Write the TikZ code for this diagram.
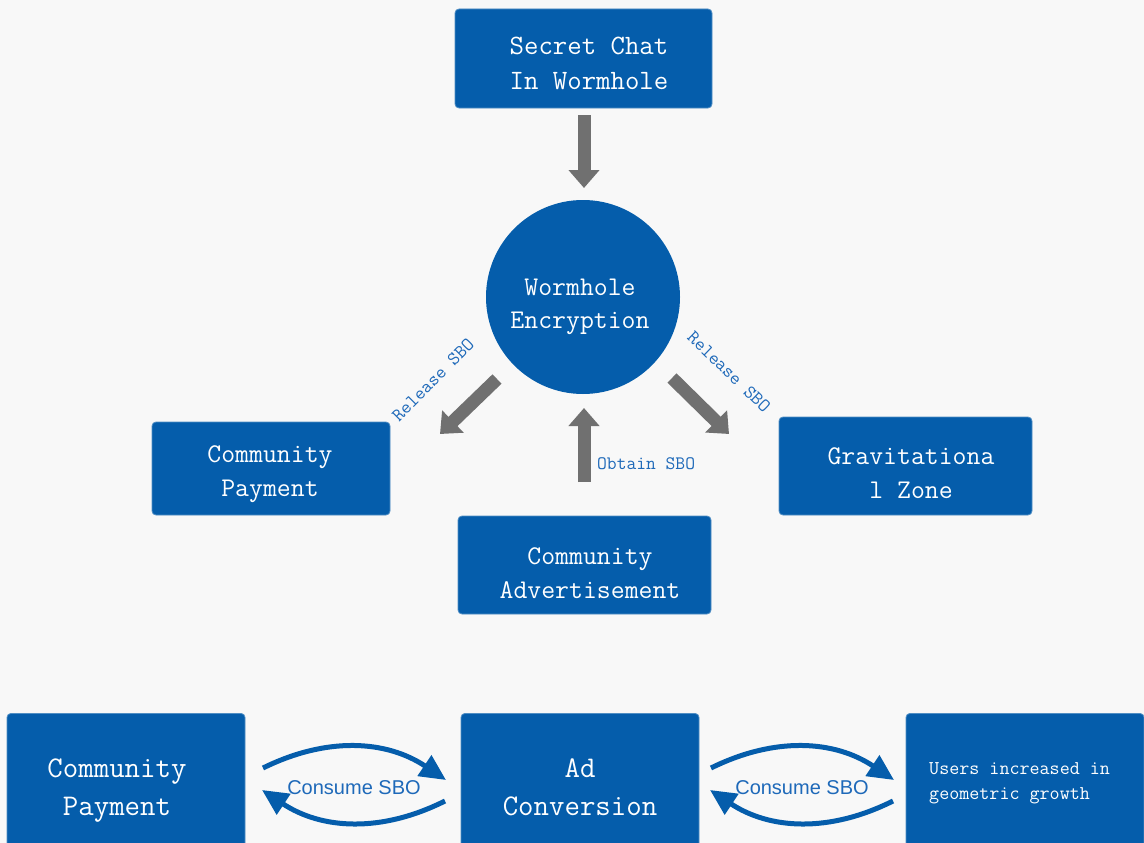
\documentclass[tikz,border=0pt]{standalone}
\usepackage{fontspec}
\newfontfamily\sansf{Liberation Sans}
\usetikzlibrary{arrows.meta}
\definecolor{boxblue}{RGB}{5,93,171}
\definecolor{lblblue}{RGB}{30,105,185}
\definecolor{arrgray}{RGB}{112,112,112}
\definecolor{bg}{RGB}{248,248,248}
\tikzset{
  box/.style={fill=boxblue, draw=boxblue!70!white, line width=0.8pt, rounded corners=4pt, inner sep=0pt, text=white, font=\ttfamily},
  btext/.style={align=center, text=white, inner sep=0pt},
  garrow/.style={draw=arrgray, line width=13pt, -{Triangle[width=30pt,length=18pt]}},
  barrow/.style={draw=boxblue, line width=5pt, -{Triangle[width=24pt,length=26pt]}},
  lbl/.style={text=lblblue, font=\ttfamily\fontsize{19}{19}\selectfont, inner sep=0pt},
}
\begin{document}
\begin{tikzpicture}[x=1pt,y=-1pt]
\useasboundingbox (0,0) rectangle (1144,843);
\fill[bg] (0,0) rectangle (1144,843);
\clip (0,0) rectangle (1144,843);

% top box
\node[box, minimum width=257pt, minimum height=99pt] (chat) at (583.5,58.5) {};
\node[btext, font=\ttfamily\fontsize{28}{35}\selectfont] (chatt) at (589,63) {Secret Chat\\In Wormhole};

% circle
\node[circle, fill=boxblue, minimum size=194pt, inner sep=0pt] (worm) at (583,297) {};
\node[btext, font=\ttfamily\fontsize{27}{33}\selectfont] (wormt) at (580,307) {Wormhole\\Encryption};

% middle boxes
\node[box, minimum width=238pt, minimum height=93pt] (pay1) at (271,468.5) {};
\node[btext, font=\ttfamily\fontsize{27}{34}\selectfont] (pay1t) at (270,474) {Community\\Payment};
\node[box, minimum width=253pt, minimum height=98pt] (grav) at (905.5,466) {};
\node[btext, font=\ttfamily\fontsize{27}{34}\selectfont] (gravt) at (911,473) {Gravitationa\\l Zone};
\node[box, minimum width=253pt, minimum height=98pt] (adv) at (584.5,565) {};
\node[btext, font=\ttfamily\fontsize{27}{34}\selectfont] (advt) at (590,573) {Community\\Advertisement};

% bottom boxes
\node[box, minimum width=238pt, minimum height=160pt, anchor=north] (pay2) at (126,713) {};
\node[btext, font=\ttfamily\fontsize{30}{38}\selectfont] (pay2t) at (117,791) {Community\\Payment};
\node[box, minimum width=238pt, minimum height=160pt, anchor=north] (conv) at (580,713) {};
\node[btext, font=\ttfamily\fontsize{30}{38}\selectfont] (convt) at (580,787) {Ad\\Conversion};
\node[box, minimum width=238pt, minimum height=160pt, anchor=north] (users) at (1025,713) {};
\node[align=left, text=white, font=\ttfamily\fontsize{19.5}{25}\selectfont, inner sep=0pt, anchor=west] (userst) at (929,783) {Users increased in\\geometric growth};

% gray arrows
\coordinate (c1) at (584,115);
\coordinate (c2) at (584,188);
\draw[garrow] (c1) -- (c2);
\coordinate (l1) at (497,379);
\coordinate (l2) at (440,434);
\draw[garrow] (l1) -- (l2);
\coordinate (r1) at (672,378);
\coordinate (r2) at (729,434);
\draw[garrow] (r1) -- (r2);
\coordinate (u1) at (584,482);
\coordinate (u2) at (584,408);
\draw[garrow] (u1) -- (u2);

% labels
\node[lbl, rotate=45] (rl) at (433,380) {Release SBO};
\node[lbl, rotate=-44] (rr) at (729,372) {Release SBO};
\node[lbl, anchor=west] (ob) at (597,464) {Obtain SBO};

% curved blue arrows
\coordinate (a1) at (263,768);
\coordinate (a2) at (446,780);
\coordinate (a3) at (445,801);
\coordinate (a4) at (262,790);
\draw[barrow] (a1) to[bend left=30] (a2);
\draw[barrow] (a3) to[bend left=30] (a4);
\node[text=lblblue, font=\sansf\fontsize{20}{20}\selectfont, inner sep=0pt] (cs1) at (354,788) {Consume SBO};

\coordinate (b1) at (711,768);
\coordinate (b2) at (894,780);
\coordinate (b3) at (893,801);
\coordinate (b4) at (710,790);
\draw[barrow] (b1) to[bend left=30] (b2);
\draw[barrow] (b3) to[bend left=30] (b4);
\node[text=lblblue, font=\sansf\fontsize{20}{20}\selectfont, inner sep=0pt] (cs2) at (802,788) {Consume SBO};
\end{tikzpicture}
\end{document}
